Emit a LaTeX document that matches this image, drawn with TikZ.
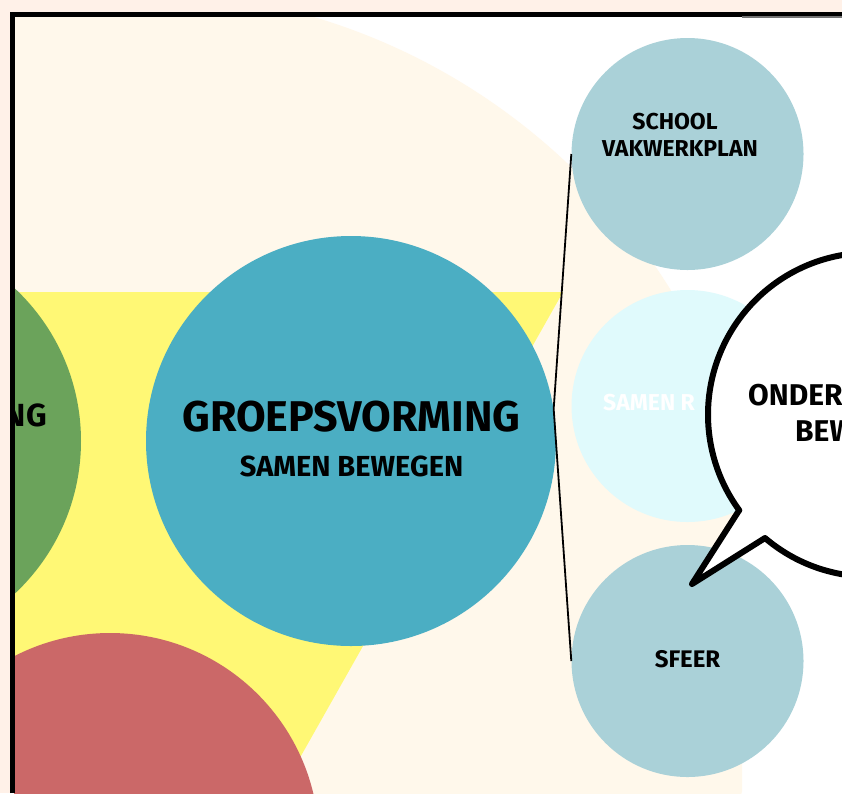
\documentclass[tikz,border=0pt]{standalone}
\usepackage{fontspec}
\setmainfont{Fira Sans}
\definecolor{peach}{HTML}{FFF1E8}
\definecolor{cream}{HTML}{FFF8EB}
\definecolor{yel}{HTML}{FFF875}
\definecolor{grn}{HTML}{6BA35B}
\definecolor{redc}{HTML}{CB6868}
\definecolor{teal}{HTML}{4BAEC3}
\definecolor{paleteal}{HTML}{AAD1D8}
\definecolor{lcyan}{HTML}{E0FAFC}
\tikzset{
  disc/.style={circle, inner sep=0pt, draw=none},
  lbl/.style={inner sep=0pt, font=\bfseries, text=black},
  link/.style={draw=black, line width=1.8pt},
}
\begin{document}
\begin{tikzpicture}[x=1pt,y=-1pt]
\useasboundingbox (0,0) rectangle (842,793);
\fill[peach] (0,0) rectangle (842,793);
\fill[white] (14,16) rectangle (842,793);
\begin{scope}
\clip (14,16) rectangle (842,793);
\begin{scope}
\clip (0,0) rectangle (742,793);
\fill[cream] (134,622) circle[radius=631];
\end{scope}
\fill[yel] (0,292) -- (563,292) -- (280,793) -- (0,793) -- cycle;
\node[disc, fill=grn, minimum size=418pt] (green) at (-128,441) {};
\node[lbl, anchor=east, font=\bfseries\fontsize{32}{32}\selectfont] (ngtxt) at (47,415) {NG};
\node[disc, fill=redc, minimum size=418pt] (red) at (110,842) {};
\node[disc, fill=teal, minimum size=410pt] (groeps) at (351,441) {};
\node[lbl, font=\bfseries\fontsize{43}{43}\selectfont] (gtitle) at (351.5,417) {GROEPSVORMING};
\node[lbl, font=\bfseries\fontsize{29}{29}\selectfont] (gsub) at (351.5,466) {SAMEN BEWEGEN};
\node[disc, fill=paleteal, minimum size=232pt] (school) at (687.5,154) {};
\node[disc, fill=lcyan, minimum size=232pt] (samen) at (687.5,406) {};
\node[disc, fill=paleteal, minimum size=232pt] (sfeer) at (687.5,661) {};
\node[lbl, font=\bfseries\fontsize{23}{23}\selectfont] (t1) at (675,121.5) {SCHOOL};
\node[lbl, font=\bfseries\fontsize{23}{23}\selectfont] (t2) at (680,149) {VAKWERKPLAN};
\node[lbl, text=white, anchor=west, font=\bfseries\fontsize{23}{23}\selectfont] (t3) at (603,402.5) {SAMEN R};
\node[lbl, font=\bfseries\fontsize{24}{24}\selectfont] (t4) at (687.5,659) {SFEER};
\draw[link] (school.west) -- (groeps.9.5) -- (sfeer.west);
\draw[line width=6pt, line join=round, fill=white]
  (738,512) -- (692,584) -- (765,538)
  arc[start angle=130.4, end angle=-216.2, radius=162] -- cycle;
\node[lbl, anchor=west, font=\bfseries\fontsize{30}{30}\selectfont] (b1) at (748,395) {ONDER};
\node[lbl, anchor=west, font=\bfseries\fontsize{30}{30}\selectfont] (b2) at (795,431.5) {BEW};
\end{scope}
\draw[line width=4.5pt] (12.3,793) -- (12.3,14.4) -- (842,14.4);
\draw[black!55, line width=1.2pt] (742,17) -- (842,17);
\end{tikzpicture}
\end{document}
